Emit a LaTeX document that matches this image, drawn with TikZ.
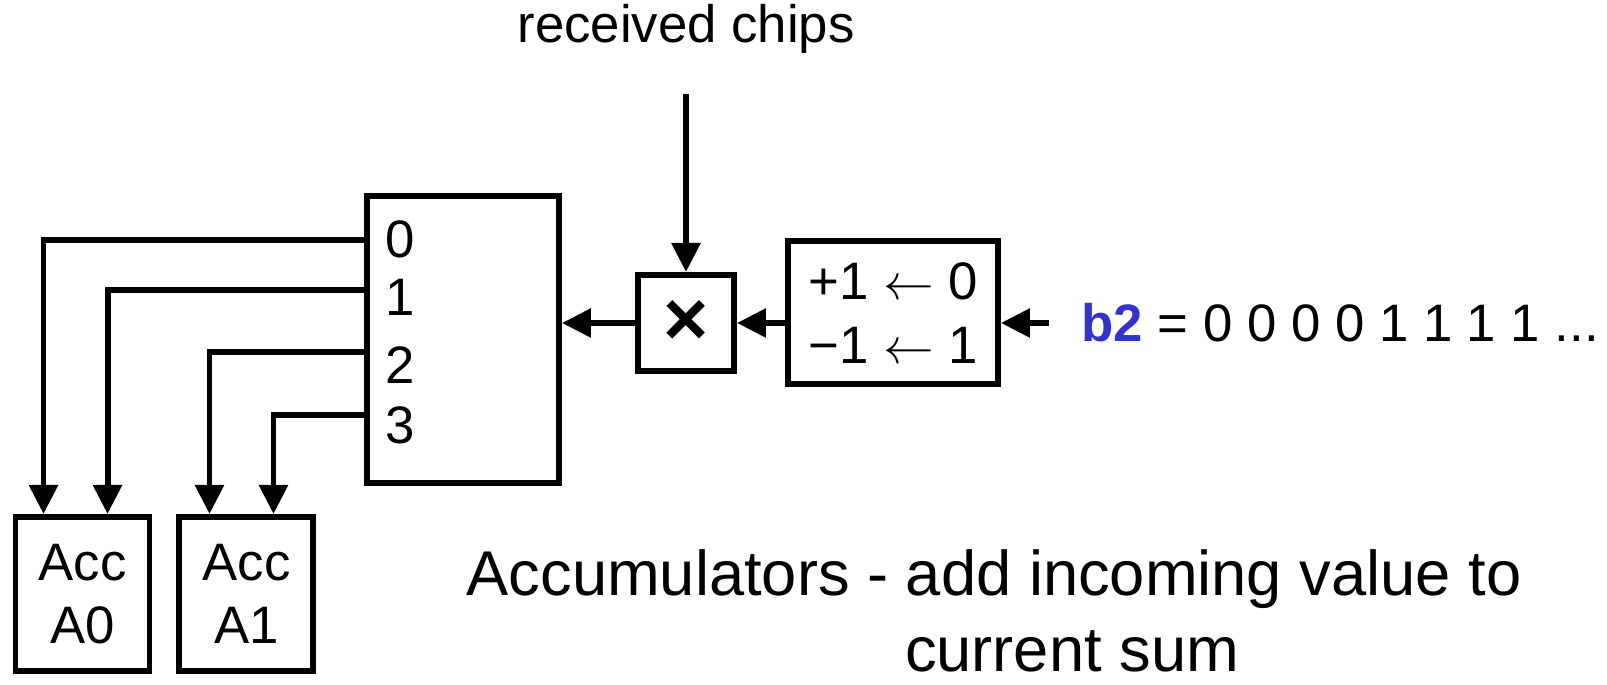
\documentclass[tikz,border=0pt]{standalone}
\usepackage{fontspec}
\setmainfont{Liberation Sans}
\usetikzlibrary{arrows.meta,positioning,calc}
\definecolor{bitBlue}{RGB}{51,51,204}

\begin{document}
\begin{tikzpicture}[
    font=\fontsize{15pt}{18pt}\selectfont,
    blockBox/.style={
        rectangle, draw=black, line width=1.7pt, fill=white,
        align=center, inner sep=0pt
    },
    accBox/.style={
        blockBox, minimum width=1.34cm, minimum height=1.54cm
    },
    portLbl/.style={inner sep=0pt},
    flow/.style={
        -{Triangle[length=0.29cm, width=0.28cm]}, line width=1.7pt, draw=black
    },
    noteTxt/.style={
        font=\fontsize{18pt}{21.5pt}\selectfont, align=center, inner sep=0pt
    }
]
\useasboundingbox (0,0) rectangle (16.07,6.85);

% Selector with four outputs
\node[blockBox, minimum width=1.92cm, minimum height=2.87cm] (sel) at (4.63,3.455) {};

% Multiplier and bit mapper
\node[blockBox, minimum size=0.96cm] (mult) at (6.86,3.62) {\fontsize{22pt}{22pt}\selectfont\bfseries ×};
\node[blockBox, minimum width=2.10cm, minimum height=1.43cm, right=0.48cm of mult, yshift=0.1cm] (map) {
    +1 $\leftarrow$ 0\\
    −1 $\leftarrow$ 1
};

% Accumulators
\node[accBox] (acc0) at (0.825,0.91) {Acc\\A0};
\node[accBox, right=0.24cm of acc0] (acc1) {Acc\\A1};

% Outputs
\foreach \i/\dy in {0/0.46,1/1.04,2/1.72,3/2.32}
    \node[portLbl] at ($(sel.north west)+(0.36,-\dy)$) {\i};

\foreach \dy/\acc/\dx in {0.47/acc0/0.31, 0.97/acc0/0.95, 1.59/acc1/0.33, 2.22/acc1/0.97}
    \draw[flow] ([yshift=-\dy cm]sel.north west) -| ([xshift=\dx cm]\acc.north west);

% Inputs
\coordinate (chipsIn) at ([yshift=1.78cm]mult.north);
\coordinate (bitsIn) at ([xshift=0.48cm]map.east |- mult);

\draw[flow] (chipsIn) -- (mult);
\draw[flow] (mult) -- (sel.east |- mult);
\draw[flow] (map.west |- mult) -- (mult);
\draw[flow] (bitsIn) -- (map.east |- mult);

% Labels
\node[above=0.40cm of chipsIn, inner sep=0pt] (chipsLbl) {received chips};
\node[right=0.32cm of bitsIn, inner sep=0pt] (bitsLbl) {\textcolor{bitBlue}{\textbf{b2}} = 0 0 0 0 1 1 1 1 ...};
\node[noteTxt] (accNote) at (9.94,0.74) {Accumulators - add incoming value to\\\hspace*{1.56cm}current sum};

\end{tikzpicture}
\end{document}
